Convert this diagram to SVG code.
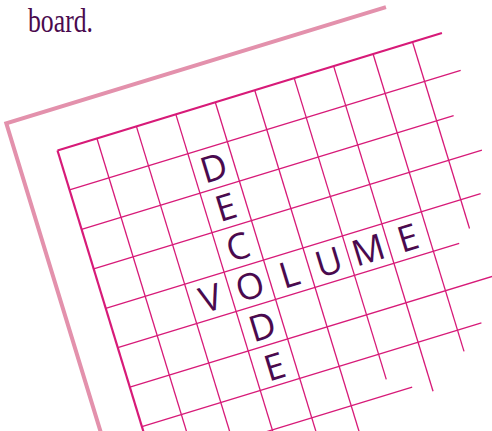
<svg xmlns="http://www.w3.org/2000/svg" width="492" height="431" viewBox="0 0 492 431">
<style>
.gl{stroke:#D71A78;stroke-width:1.3;fill:none}
.edge{stroke:#D71A78;stroke-width:2.2;fill:none}
.frame{stroke:#E391AC;stroke-width:4;fill:none}
.ltr{font-family:"Open Sans","DejaVu Sans",sans-serif;font-size:36px;fill:#4A0A4E;text-anchor:middle}
.cap{font-family:"Liberation Serif",serif;font-size:33px;fill:#4A0A4E}
</style>
<rect width="492" height="431" fill="#ffffff"/>
<text id="caption" class="cap" x="28" y="32" textLength="65" lengthAdjust="spacingAndGlyphs">board.</text>
<g id="board" transform="translate(57.5,150.5) rotate(-17)">
  <polyline id="frame" class="frame" points="356,-41 -41,-41 -41,420"/>
  <g id="grid">
    <line class="edge" x1="0" y1="0" x2="402" y2="0"/>
    <line class="gl" x1="0" y1="41.25" x2="409" y2="41.25"/>
    <line class="gl" x1="0" y1="82.5" x2="389" y2="82.5"/>
    <line class="gl" x1="0" y1="123.75" x2="406" y2="123.75"/>
    <line class="gl" x1="0" y1="165" x2="392" y2="165"/>
    <line class="gl" x1="0" y1="206.25" x2="357" y2="206.25"/>
    <line class="gl" x1="0" y1="247.5" x2="392" y2="247.5"/>
    <line class="gl" x1="0" y1="288.75" x2="355" y2="288.75"/>
    <line class="gl" x1="0" y1="330" x2="270" y2="330"/>
    <line class="edge" x1="0" y1="0" x2="0" y2="420"/>
    <line class="gl" x1="41.25" y1="0" x2="41.25" y2="420"/>
    <line class="gl" x1="82.5" y1="0" x2="82.5" y2="420"/>
    <line class="gl" x1="123.75" y1="0" x2="123.75" y2="420"/>
    <line class="gl" x1="165" y1="0" x2="165" y2="420"/>
    <line class="gl" x1="206.25" y1="0" x2="206.25" y2="420"/>
    <line class="gl" x1="247.5" y1="0" x2="247.5" y2="315"/>
    <line class="gl" x1="288.75" y1="0" x2="288.75" y2="340"/>
    <line class="gl" x1="330" y1="0" x2="330" y2="311"/>
    <line class="gl" x1="371.25" y1="0" x2="371.25" y2="195"/>
  </g>
  <g id="letters">
    <text class="ltr" x="144.4" y="75">D</text>
    <text class="ltr" x="144.4" y="116.2">E</text>
    <text class="ltr" x="144.4" y="157.5">C</text>
    <text class="ltr" x="144.4" y="198.7">O</text>
    <text class="ltr" x="144.4" y="241">D</text>
    <text class="ltr" x="144.4" y="283">E</text>
    <text class="ltr" x="103.1" y="198.7">V</text>
    <text class="ltr" x="185.6" y="198.7">L</text>
    <text class="ltr" x="226.9" y="198.7">U</text>
    <text class="ltr" x="268.1" y="198.7">M</text>
    <text class="ltr" x="309.4" y="198.7">E</text>
  </g>
</g>
</svg>
